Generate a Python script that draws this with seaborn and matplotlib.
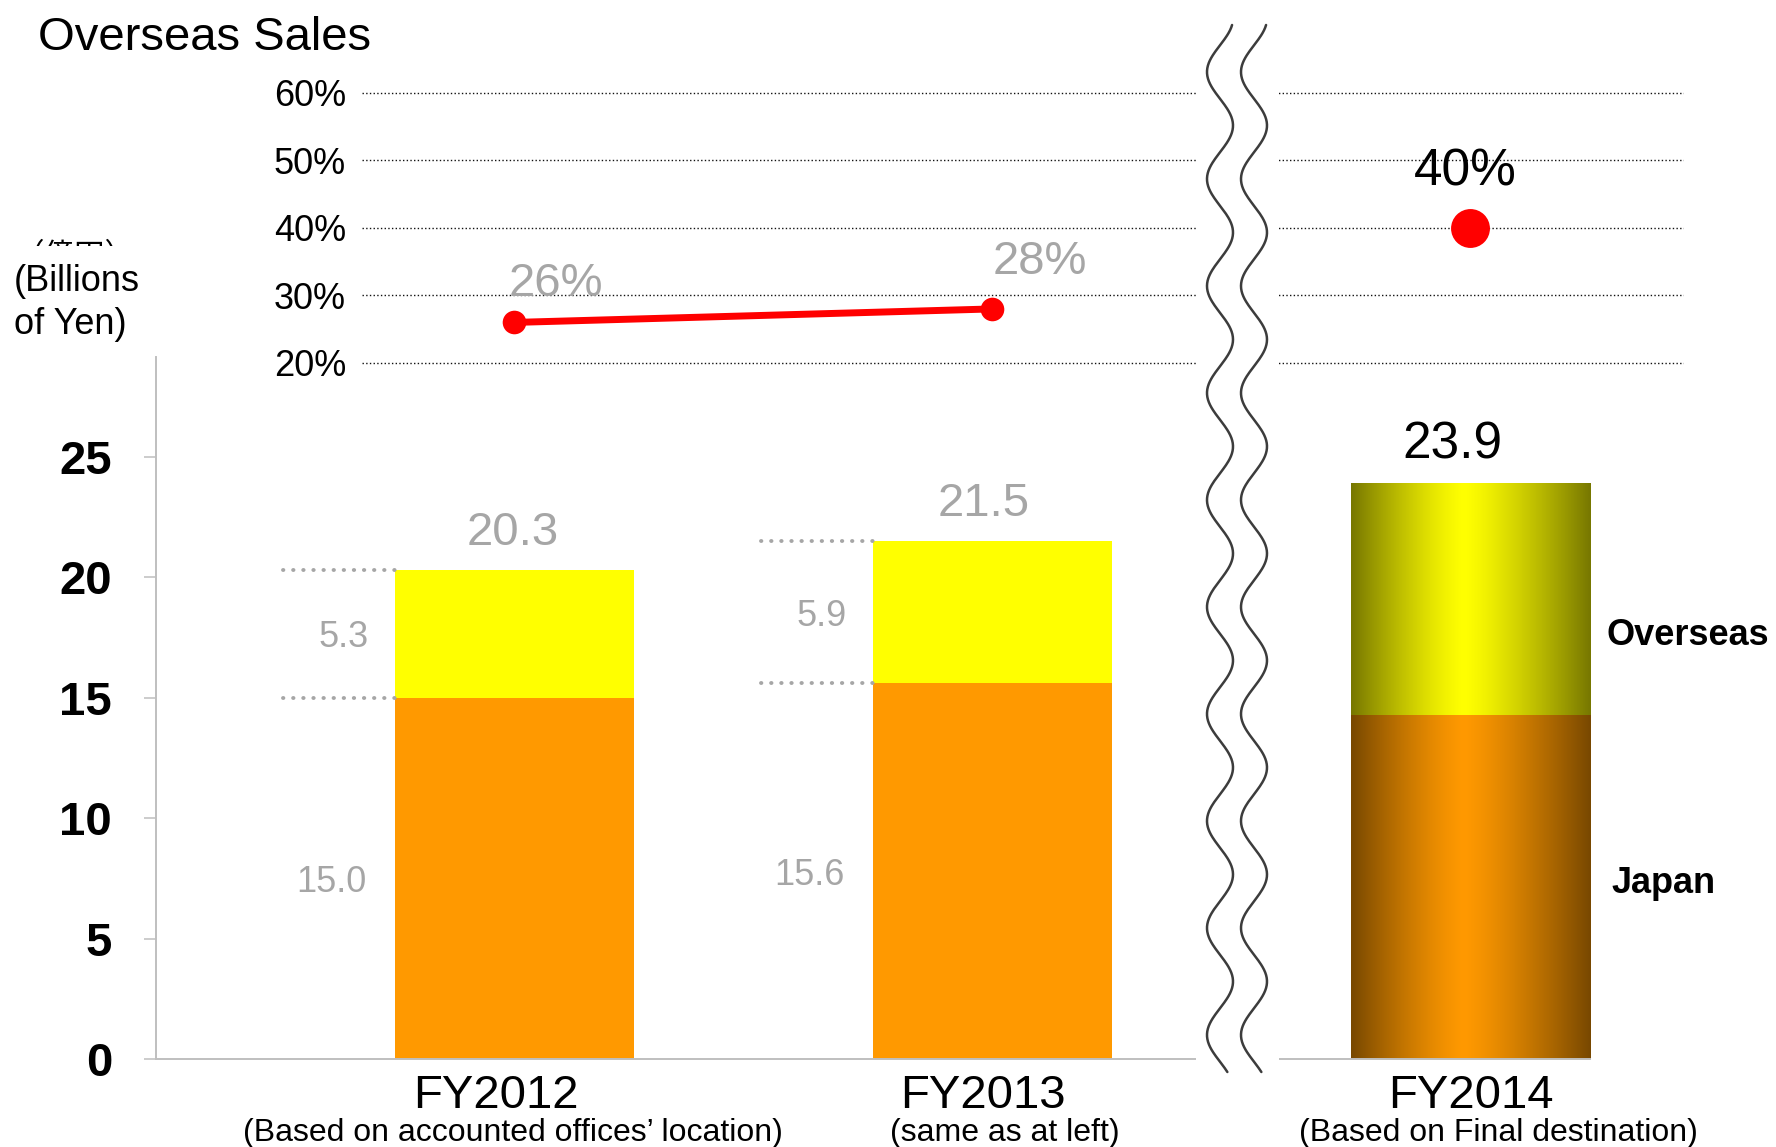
import numpy as np
import pandas as pd
import matplotlib
matplotlib.use("Agg")
import matplotlib.pyplot as plt
import seaborn as sns
from matplotlib.transforms import Bbox, TransformedBbox
from matplotlib.patches import Rectangle

# ---------------- data ----------------
categories = ["FY2012", "FY2013", "FY2014"]
subtitles = ["(Based on accounted offices\u2019 location)", "(same as at left)",
             "(Based on Final destination)"]
japan = [15.0, 15.6, 14.3]
overseas = [5.3, 5.9, 9.6]
totals = [20.3, 21.5, 23.9]
overseas_pct = [26, 28, 40]
bar_ticks = [0, 5, 10, 15, 20, 25]
pct_ticks = [20, 30, 40, 50, 60]

# ---------------- style ----------------
sns.set_theme(style="white")
plt.rcParams['font.family'] = ['Liberation Sans', 'DejaVu Sans']
plt.rcParams['text.color'] = 'black'
plt.rcParams['axes.labelcolor'] = 'black'
plt.rcParams['xtick.color'] = 'black'
plt.rcParams['ytick.color'] = 'black'
W, H = 1776, 1147
PX = 0.72  # points per pixel at dpi 100
GRAY = "#A6A6A6"
YELLOW = "#FFFF00"
ORANGE = "#FF9900"

fig = plt.figure(figsize=(W / 100, H / 100), dpi=100)
fig.patch.set_facecolor("white")


def fx(px):
    return px / W


def fy(py):
    return 1 - py / H


# ---------------- bar axes ----------------
ax = fig.add_axes([fx(156), fy(1059), fx(1590 - 156), (1059 - 357) / H])
df = pd.DataFrame({"cat": categories, "total": totals, "japan": japan})
sns.barplot(data=df, x="cat", y="total", color=YELLOW, width=0.5, saturation=1,
            errorbar=None, linewidth=0, ax=ax)
sns.barplot(data=df, x="cat", y="japan", color=ORANGE, width=0.5, saturation=1,
            errorbar=None, linewidth=0, ax=ax)


def gradient(center_hex, edge_rgb, n=256, c=0.47):
    t = np.linspace(0, 1, n)
    u = np.where(t < c, (c - t) / c, (t - c) / (1 - c))
    g = 1 - u ** 1.3
    cen = np.array(matplotlib.colors.to_rgb(center_hex))
    edg = np.array(edge_rgb) / 255.0
    arr = edg[None, :] + (cen - edg)[None, :] * g[:, None]
    return arr[None, :, :]


# gradient fill for the last (FY2014) bar segments
last = len(categories) - 1
for k, (cont, col, edge) in enumerate([(ax.containers[0], YELLOW, (119, 119, 0)),
                                       (ax.containers[1], ORANGE, (120, 72, 0))]):
    p = cont.patches[last]
    x0, y0, w, h = p.get_x(), p.get_y(), p.get_width(), p.get_height()
    p.set_facecolor("none")
    im = ax.imshow(gradient(col, edge), extent=[x0, x0 + w, y0, y0 + h],
                   aspect="auto", zorder=2 + 0.1 * k, interpolation="bilinear")
    im.set_clip_path(p)

ax.set_xlim(-0.749, 2.25)
ax.set_ylim(0, 29.15)
ax.set_xlabel("")
ax.set_ylabel("")
for s in ["top", "right"]:
    ax.spines[s].set_visible(False)
for s in ["left", "bottom"]:
    ax.spines[s].set_color("#BFBFBF")
    ax.spines[s].set_linewidth(1.4)

ax.set_yticks(bar_ticks)
ax.set_yticklabels([str(v) for v in bar_ticks], fontsize=34, fontweight="bold")
ax.tick_params(axis="y", left=True, length=12 * PX, width=1.1, color="#BFBFBF",
               pad=23, labelcolor="black")
ax.set_xticks(range(len(categories)))
ax.set_xticklabels([""] * len(categories))
ax.tick_params(axis="x", bottom=False, length=0)

# category labels and subtitles below the axis
cat_dx = [-18, -9, 0]
sub_dx = [-1, 13, 28]
for i, (cat, sub) in enumerate(zip(categories, subtitles)):
    ax.annotate(cat, xy=(i, 0), xycoords=ax.get_xaxis_transform(),
                xytext=(cat_dx[i] * PX, -49 * PX), textcoords="offset points",
                ha="center", va="baseline", fontsize=34, color="black",
                annotation_clip=False)
    ax.annotate(sub, xy=(i, 0), xycoords=ax.get_xaxis_transform(),
                xytext=(sub_dx[i] * PX, -82 * PX), textcoords="offset points",
                ha="center", va="baseline", fontsize=23, color="black",
                annotation_clip=False)

# total labels above bars
total_colors = [GRAY, GRAY, "black"]
total_sizes = [34, 34, 37]
total_dx = [-1, -9, -18]
for i, t in enumerate(totals):
    ax.annotate(f"{t:.1f}", xy=(i, t), xytext=(total_dx[i] * PX, 25 * PX),
                textcoords="offset points", ha="center", va="baseline",
                fontsize=total_sizes[i], color=total_colors[i])

# segment labels + dotted guides for the first two bars
half = 0.25
for i in range(2):
    left = i - half
    for yv in (japan[i], totals[i]):
        ax.plot([left - 0.234, left], [yv, yv], color=GRAY, lw=2.8,
                linestyle=(0, (0.1, 2.5)), dash_capstyle="round", zorder=3,
                clip_on=False)
    ax.annotate(f"{japan[i]:.1f}", xy=(left, japan[i] / 2), xytext=(-28 * PX, 0),
                textcoords="offset points", ha="right", va="center_baseline",
                fontsize=26, color=GRAY)
    ax.annotate(f"{overseas[i]:.1f}", xy=(left, japan[i] + overseas[i] / 2),
                xytext=(-26 * PX, 0), textcoords="offset points", ha="right",
                va="center_baseline", fontsize=26, color=GRAY)

# series labels to the right of the last bar
pl = ax.containers[1].patches[last]
xr = pl.get_x() + pl.get_width()
ax.annotate("Overseas", xy=(xr, japan[last] + 0.36 * overseas[last]),
            xytext=(16 * PX, 0), textcoords="offset points", ha="left",
            va="center_baseline", fontsize=26, fontweight="bold", color="black",
            annotation_clip=False)
ax.annotate("Japan", xy=(xr, 0.52 * japan[last]), xytext=(21 * PX, 0),
            textcoords="offset points", ha="left", va="center_baseline",
            fontsize=26, fontweight="bold", color="black", annotation_clip=False)

# ---------------- percentage axes ----------------
ax2 = fig.add_axes([fx(362), fy(376.5), fx(1684 - 362), (376.5 - 79.2) / H])
ax2.patch.set_visible(False)
for s in ax2.spines.values():
    s.set_visible(False)
xpos = np.arange(len(categories))
ln = pd.DataFrame({"x": xpos[:2], "pct": overseas_pct[:2]})
sns.lineplot(data=ln, x="x", y="pct", color="#FF0000", lw=5, marker="o",
             markersize=17, markeredgewidth=0, ax=ax2, zorder=5)
pt = pd.DataFrame({"x": xpos[2:], "pct": overseas_pct[2:]})
sns.scatterplot(data=pt, x="x", y="pct", color="#FF0000", s=28 ** 2,
                linewidth=0, ax=ax2, zorder=5)
ax2.set_xlim(-0.3179, 2.4467)
ax2.set_ylim(18, 62)
ax2.set_xlabel("")
ax2.set_ylabel("")
ax2.set_xticks([])
ax2.set_yticks(pct_ticks)
ax2.set_yticklabels([f"{v}%" for v in pct_ticks], fontsize=26)
ax2.tick_params(axis="y", left=False, length=0, pad=16 * PX, labelcolor="black")
ax2.yaxis.grid(True, linestyle=":", linewidth=1.0, color="#111111")
ax2.set_axisbelow(True)

pct_colors = [GRAY, GRAY, "black"]
pct_sizes = [34, 34, 37]
pct_offsets = [(42, 26), (48, 35), (-5, 42)]
for i, p in enumerate(overseas_pct):
    dx, dy = pct_offsets[i]
    ax2.annotate(f"{p}%", xy=(i, p), xytext=(dx * PX, dy * PX),
                 textcoords="offset points", ha="center", va="baseline",
                 fontsize=pct_sizes[i], color=pct_colors[i], zorder=6)

# ---------------- figure texts ----------------
fig.text(fx(38), fy(50), "Overseas Sales", fontsize=34, ha="left", va="baseline",
         color="black")
fig.text(fx(14), fy(291), "(Billions", fontsize=26, ha="left", va="baseline",
         color="black")
fig.text(fx(14), fy(334), "of Yen)", fontsize=26, ha="left", va="baseline",
         color="black")
jt = fig.text(fx(14), fy(241), "\uff08\u5104\u5186\uff09", fontsize=22, ha="left",
              va="top", family=["Noto Sans CJK JP", "DejaVu Sans"], clip_on=True,
              color="black")
jt.set_clip_box(TransformedBbox(Bbox.from_extents(0, fy(246), fx(220), fy(225)),
                                fig.transFigure))

# ---------------- axis break (wavy lines) ----------------
ov = fig.add_axes([0, 0, 1, 1], zorder=10)
ov.set_xlim(0, W)
ov.set_ylim(H, 0)
ov.axis("off")
ov.add_patch(Rectangle((1196, 20), 1279 - 1196, 1075 - 20, facecolor="white",
                       edgecolor="none"))
yy = np.linspace(25, 1072, 800)
for c in (1220, 1254):
    xx = c - 13 * np.cos(2 * np.pi * (yy - 72) / 107)
    ov.plot(xx, yy, color="#3c3c3c", lw=1.8)

fig.savefig("out.png", dpi=100)
